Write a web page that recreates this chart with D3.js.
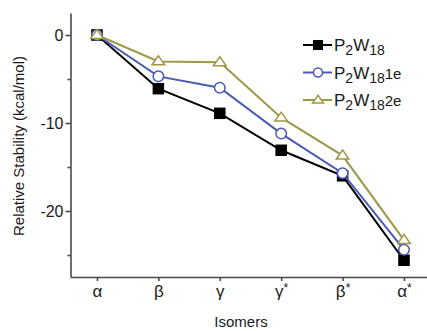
<!DOCTYPE html>
<head>
  <meta charset="utf-8">
  <title>Relative Stability</title>
  <script src="https://cdn.jsdelivr.net/npm/d3@7"></script>
  <style>
    body { margin: 0; background: #fff; }
    text { font-family: Arial, "Liberation Sans", sans-serif; fill: #1a1a1a; }
  </style>
</head>
<body>
  <script>
    var WIDTH = 427;
    var HEIGHT = 331;

    // data
    var isomers = ["α", "β", "γ", "γ*", "β*", "α*"];
    var p2w18   = [0, -6.1, -8.9, -13.1, -16.0, -25.6];
    var p2w181e = [0, -4.7, -6.0, -11.2, -15.7, -24.4];
    var p2w182e = [0, -3.0, -3.1, -9.4, -13.7, -23.3];
    var majorTicks = [0, -10, -20];
    var minorTicks = [-5, -15, -25];

    var series = [
      { suffix: "",   values: p2w18,   color: "#000000", shape: "square",   fill: "#000000" },
      { suffix: "1e", values: p2w181e, color: "#4b5ab3", shape: "circle",   fill: "#ffffff" },
      { suffix: "2e", values: p2w182e, color: "#9d9848", shape: "triangle", fill: "#ffffff" }
    ];

    var svg = d3.select("body").append("svg")
                .attr("width", WIDTH)
                .attr("height", HEIGHT);

    var x = d3.scalePoint()
              .domain(isomers)
              .range([70.5, 427])
              .padding(0.403)
              .align(0.535);
    var y = d3.scaleLinear()
              .domain([-27.5, 2.5])
              .range([277, 13]);

    //===== axes
    var gx = svg.append("g")
      .attr("transform", "translate(0,277)")
      .call(d3.axisBottom(x).tickSize(4).tickSizeOuter(0));
    gx.selectAll("text").each(function(d){
      var t = d3.select(this).text(null)
        .attr("dy", null).attr("y", 20)
        .style("font-size", "17px");
      t.append("tspan").text(d.charAt(0));
      if (d.length > 1) {
        t.append("tspan").text("*")
          .attr("dy", -5).style("font-size", "12px");
      }
    });

    var gy = svg.append("g")
      .attr("transform", "translate(70.5,0)")
      .call(d3.axisLeft(y).tickValues(majorTicks).tickSize(5).tickSizeOuter(0)
              .tickFormat(function(d){ return String(d); }));
    gy.selectAll("text").style("font-size", "16px").attr("x", -7);
    svg.append("g")
      .attr("transform", "translate(70.5,0)")
      .call(d3.axisLeft(y).tickValues(minorTicks).tickSize(3).tickFormat(""))
      .select(".domain").remove();

    svg.selectAll(".domain, .tick line")
      .attr("stroke", "#4a4a4a")
      .attr("stroke-width", 1.6);

    svg.append("text")
      .attr("x", 241).attr("y", 327)
      .attr("text-anchor", "middle")
      .style("font-size", "15px")
      .text("Isomers");

    svg.append("text")
      .attr("transform", "translate(24,146) rotate(-90)")
      .attr("text-anchor", "middle")
      .style("font-size", "15px")
      .text("Relative Stability (kcal/mol)");

    //===== lines + markers
    var line = d3.line()
      .x(function(d, i){ return x(isomers[i]); })
      .y(function(d){ return y(d); });

    function marker(g, shape, cx, cy, s, color, fill) {
      if (shape === "square") {
        g.append("rect")
          .attr("x", cx - s / 2).attr("y", cy - s / 2)
          .attr("width", s).attr("height", s)
          .attr("fill", fill).attr("stroke", color).attr("stroke-width", 1);
      } else if (shape === "circle") {
        g.append("circle")
          .attr("cx", cx).attr("cy", cy).attr("r", s / 2)
          .attr("fill", fill).attr("stroke", color).attr("stroke-width", 1.5);
      } else {
        var h = s * 0.85;
        g.append("path")
          .attr("d", "M" + cx + "," + (cy - h * 0.62) +
                     "L" + (cx + s * 0.6) + "," + (cy + h * 0.38) +
                     "L" + (cx - s * 0.6) + "," + (cy + h * 0.38) + "Z")
          .attr("fill", fill).attr("stroke", color).attr("stroke-width", 1.5);
      }
    }

    series.forEach(function(s){
      var g = svg.append("g");
      g.append("path")
        .attr("d", line(s.values))
        .attr("fill", "none")
        .attr("stroke", s.color)
        .attr("stroke-width", 2);
      s.values.forEach(function(v, i){
        marker(g, s.shape, x(isomers[i]), y(v), 10.5, s.color, s.fill);
      });
    });

    //===== legend
    var legend = svg.append("g");
    series.forEach(function(s, i){
      var ly = 45 + i * 27.5;
      legend.append("line")
        .attr("x1", 303).attr("x2", 332)
        .attr("y1", ly).attr("y2", ly)
        .attr("stroke", s.color).attr("stroke-width", 2);
      marker(legend, s.shape, 318, ly, 9, s.color, s.fill);
      var t = legend.append("text")
        .attr("x", 334).attr("y", ly + 6)
        .style("font-size", "17px");
      t.append("tspan").text("P");
      t.append("tspan").text("2").attr("dy", 4).style("font-size", "14px");
      t.append("tspan").text("W").attr("dy", -4);
      t.append("tspan").text("18").attr("dy", 4).style("font-size", "14px");
      if (s.suffix) {
        t.append("tspan").text(s.suffix).attr("dy", -4).style("font-size", "15px");
      }
    });
  </script>
</body>
